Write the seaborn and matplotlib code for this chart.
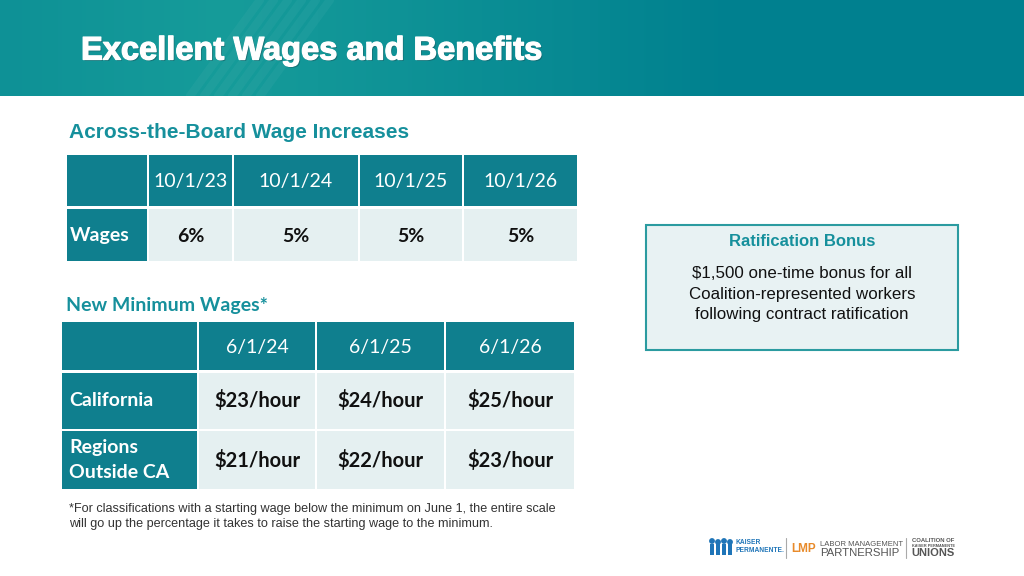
import numpy as np
import matplotlib
matplotlib.use("Agg")
import matplotlib.pyplot as plt
import matplotlib.patheffects as pe
from matplotlib.patches import Rectangle
import seaborn as sns

# ---- data ----
wage_dates = ["10/1/23", "10/1/24", "10/1/25", "10/1/26"]
wage_increases = [6, 5, 5, 5]
wage_row_label = "Wages"
min_dates = ["6/1/24", "6/1/25", "6/1/26"]
regions = ["California", "Regions\nOutside CA"]
california_min = [23, 24, 25]
outside_ca_min = [21, 22, 23]

sns.set_theme(style="white")
plt.rcParams['font.family'] = ['Liberation Sans', 'DejaVu Sans']

TEAL_HDR = "#0f7f8e"
TEAL_TXT = "#16909c"
LIGHT = "#e5f0f1"
BODY_FONT = ["Lato", "DejaVu Sans"]

fig = plt.figure(figsize=(10.24, 5.76), dpi=100)
ax = fig.add_axes([0, 0, 1, 1])
ax.set_xlim(0, 1024)
ax.set_ylim(576, 0)
ax.axis("off")

# ---- header band with gradient ----
xs = np.linspace(0, 1, 512)
left = np.array([14, 145, 150]) / 255
mid = np.array([22, 156, 154]) / 255
right = np.array([0, 128, 143]) / 255
cols = np.where(xs[:, None] < 0.22,
                left + (mid - left) * (xs[:, None] / 0.22),
                mid + (right - mid) * np.clip((xs[:, None] - 0.22) / 0.5, 0, 1))
grad = np.tile(cols[None, :, :], (20, 1, 1))
ax.imshow(grad, extent=(0, 1024, 96, 0), aspect="auto", zorder=0)
for k in range(6):
    x0 = 190 + k * 14
    ax.plot([x0, x0 + 70], [96, 0], color="white", alpha=0.04, lw=6, zorder=1)
ax.text(81, 51, "Excellent Wages and Benefits", color="white", fontsize=23.5,
        fontweight="bold", va="center", ha="left", zorder=3,
        path_effects=[pe.withSimplePatchShadow(offset=(1.0, -1.0), shadow_rgbFace="#1b4d55", alpha=0.5),
                      pe.Stroke(linewidth=0.9, foreground="white"), pe.Normal()])

# ---- Across-the-Board table ----
ax.text(69, 133, "Across-the-Board Wage Increases", color=TEAL_TXT, fontsize=15,
        fontweight="bold", va="center", ha="left")

t1_edges = [66, 148, 233, 359, 463, 578]
t1_rows = [(155, 206), (209, 261)]
gap = 1.5
for j in range(len(t1_edges) - 1):
    x0, x1 = t1_edges[j], t1_edges[j + 1]
    for i, (y0, y1) in enumerate(t1_rows):
        fc = TEAL_HDR if (i == 0 or j == 0) else LIGHT
        ax.add_patch(Rectangle((x0 + gap / 2, y0), x1 - x0 - gap, y1 - y0, fc=fc, ec="none"))
for j, d in enumerate(wage_dates):
    cx = (t1_edges[j + 1] + t1_edges[j + 2]) / 2
    ax.text(cx, 182, d, color="white", fontsize=14, family=BODY_FONT,
            ha="center", va="center")
    ax.text(cx, 236, f"{wage_increases[j]}%", color="#111111", fontsize=14,
            family=BODY_FONT, fontweight="bold", ha="center", va="center")
ax.text(70, 236, wage_row_label, color="white", fontsize=14, family=BODY_FONT,
        fontweight="bold", ha="left", va="center")

# ---- New Minimum Wages table ----
ax.text(66, 305, "New Minimum Wages*", color=TEAL_TXT, fontsize=14,
        family=BODY_FONT, fontweight="bold", va="center", ha="left")
t2_edges = [61, 198, 316, 445, 575]
t2_rows = [(322, 370), (373, 429), (431, 489)]
for j in range(len(t2_edges) - 1):
    x0, x1 = t2_edges[j], t2_edges[j + 1]
    for i, (y0, y1) in enumerate(t2_rows):
        fc = TEAL_HDR if (i == 0 or j == 0) else LIGHT
        ax.add_patch(Rectangle((x0 + gap / 2, y0), x1 - x0 - gap, y1 - y0, fc=fc, ec="none"))
for j, d in enumerate(min_dates):
    cx = (t2_edges[j + 1] + t2_edges[j + 2]) / 2
    ax.text(cx, 347, d, color="white", fontsize=14, family=BODY_FONT,
            ha="center", va="center")
    for i, vals in enumerate([california_min, outside_ca_min]):
        cy = (t2_rows[i + 1][0] + t2_rows[i + 1][1]) / 2
        ax.text(cx, cy, f"${vals[j]}/hour", color="#111111", fontsize=14.5,
                family=BODY_FONT, fontweight="bold", ha="center", va="center")
for i, r in enumerate(regions):
    cy = (t2_rows[i + 1][0] + t2_rows[i + 1][1]) / 2
    ax.text(69, cy, r, color="white", fontsize=14, family=BODY_FONT,
            fontweight="bold", ha="left", va="center", linespacing=1.6)

# ---- footnote ----
ax.text(69, 516.5, "*For classifications with a starting wage below the minimum on June 1, the entire scale\n"
        "will go up the percentage it takes to raise the starting wage to the minimum.",
        color="#333333", fontsize=9.1, ha="left", va="center", linespacing=1.4)

# ---- Ratification box ----
ax.add_patch(Rectangle((646, 225), 312, 125, fc="#e8f2f3", ec="#2b9ba0", lw=1.5))
ax.text(802, 241, "Ratification Bonus", color=TEAL_TXT, fontsize=12, fontweight="bold",
        ha="center", va="center")
ax.text(802, 294, "$1,500 one-time bonus for all\nCoalition-represented workers\nfollowing contract ratification",
        color="#111111", fontsize=12.2, ha="center", va="center", linespacing=1.5)

# ---- logos (approximation) ----
for k, dx in enumerate([0, 6, 12, 18]):
    ax.add_patch(plt.Circle((712 + dx, 541 + (k % 2)), 2.2, color="#1f75b8"))
    ax.add_patch(Rectangle((710 + dx, 544), 4, 11, fc="#1f75b8", ec="none"))
ax.text(735, 543, "KAISER", color="#1f75b8", fontsize=4.8, fontweight="bold", va="center")
ax.text(735, 551, "PERMANENTE.", color="#1f75b8", fontsize=4.8, fontweight="bold", va="center")
ax.plot([786, 786], [538, 558], color="#aaaaaa", lw=0.8)
ax.text(791, 549, "LMP", color="#e88a2a", fontsize=8.5, fontweight="bold", va="center")
ax.text(820, 544, "LABOR MANAGEMENT", color="#555555", fontsize=5.5, va="center")
ax.text(820, 553, "PARTNERSHIP", color="#555555", fontsize=8.2, va="center")
ax.plot([906, 906], [538, 558], color="#aaaaaa", lw=0.8)
ax.text(912, 541, "COALITION OF", color="#555555", fontsize=4.2, fontweight="bold", va="center")
ax.text(912, 546, "KAISER PERMANENTE", color="#555555", fontsize=2.8, fontweight="bold", va="center")
ax.text(911, 553, "UNIONS", color="#555555", fontsize=8, fontweight="bold", va="center")

fig.savefig("out.png", dpi=100)
